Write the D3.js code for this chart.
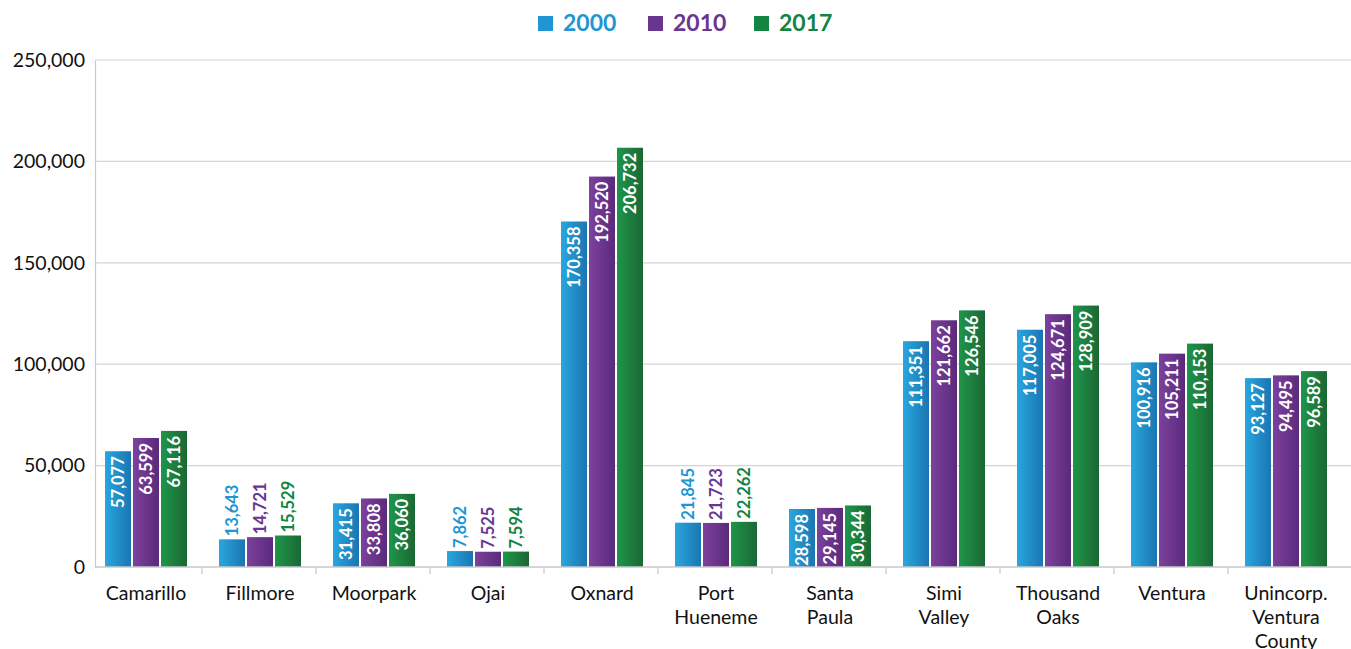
<!DOCTYPE html>
<html>
<head>
<meta charset="UTF-8">
<script src="https://d3js.org/d3.v7.min.js"></script>
<style>
  body { margin: 0; background: #fff; }
  text { font-family: Lato, "Open Sans", sans-serif; }
</style>
</head>
<body>
<script>
  // data
  var cities = ["Camarillo", "Fillmore", "Moorpark", "Ojai", "Oxnard", "Port Hueneme",
                "Santa Paula", "Simi Valley", "Thousand Oaks", "Ventura", "Unincorp. Ventura County"];
  var cityLines = [["Camarillo"], ["Fillmore"], ["Moorpark"], ["Ojai"], ["Oxnard"], ["Port", "Hueneme"],
                   ["Santa", "Paula"], ["Simi", "Valley"], ["Thousand", "Oaks"], ["Ventura"], ["Unincorp.", "Ventura", "County"]];
  var years = ["2000", "2010", "2017"];
  var pop2000 = [57077, 13643, 31415, 7862, 170358, 21845, 28598, 111351, 117005, 100916, 93127];
  var pop2010 = [63599, 14721, 33808, 7525, 192520, 21723, 29145, 121662, 124671, 105211, 94495];
  var pop2017 = [67116, 15529, 36060, 7594, 206732, 22262, 30344, 126546, 128909, 110153, 96589];
  var yTicks = [0, 50000, 100000, 150000, 200000, 250000];

  var series = [pop2000, pop2010, pop2017];
  var legendColors = ["#1f96d3", "#6a3591", "#138442"];
  var gradStops = [["#2aa6de", "#1a76b2"], ["#7d419c", "#5a2a7c"], ["#1f9549", "#1a6834"]];

  var width = 1351, height = 649;
  var axisX = 95;

  var svg = d3.select('body').append('svg').attr('width', width).attr('height', height);

  var defs = svg.append('defs');
  gradStops.forEach(function(s, i) {
    var g = defs.append('linearGradient').attr('id', 'g' + i)
      .attr('x1', '0%').attr('x2', '100%').attr('y1', '0%').attr('y2', '0%');
    g.append('stop').attr('offset', '0%').attr('stop-color', s[0]);
    g.append('stop').attr('offset', '100%').attr('stop-color', s[1]);
  });

  var x = d3.scaleBand().domain(cities).range([88, 1342]);
  var x1 = d3.scaleBand().domain(years).range([17, 99]).paddingInner(0.0714);
  var y = d3.scaleLinear().domain([0, 250000]).range([567, 60]);

  // gridlines
  svg.append('g').selectAll('line').data(yTicks.slice(1)).join('line')
    .attr('x1', axisX).attr('x2', width)
    .attr('y1', function(d) { return y(d) }).attr('y2', function(d) { return y(d) })
    .attr('stroke', '#d4d4d4').attr('stroke-width', 1.2);

  // y axis
  var yAxis = svg.append('g').attr('transform', 'translate(' + axisX + ',0)')
    .call(d3.axisLeft(y).tickValues(yTicks).tickSize(0).tickPadding(10).tickFormat(d3.format(',')));
  yAxis.select('.domain').attr('stroke', '#c8c8c8').attr('stroke-width', 1.2);
  yAxis.selectAll('text').attr('font-size', 19.5).attr('fill', '#111').attr('font-family', 'Lato');

  // bars
  var groups = svg.append('g').selectAll('g').data(cities).join('g')
    .attr('transform', function(d) { return 'translate(' + x(d) + ',0)' });

  years.forEach(function(yr, si) {
    groups.append('rect')
      .attr('x', x1(yr))
      .attr('width', x1.bandwidth())
      .attr('y', function(d, i) { return y(series[si][i]) })
      .attr('height', function(d, i) { return y(0) - y(series[si][i]) })
      .attr('fill', 'url(#g' + si + ')');

    groups.append('text')
      .attr('transform', function(d, i) {
        var v = series[si][i];
        var inside = (y(0) - y(v)) > 52;
        var ty = inside ? y(v) + 5 : y(v) - 3;
        return 'translate(' + (x1(yr) + x1.bandwidth() / 2 + 6) + ',' + ty + ') rotate(-90)';
      })
      .attr('text-anchor', function(d, i) { return (y(0) - y(series[si][i])) > 52 ? 'end' : 'start' })
      .attr('font-size', 16.5).attr('font-weight', 'bold')
      .attr('fill', function(d, i) { return (y(0) - y(series[si][i])) > 52 ? '#fff' : legendColors[si] })
      .text(function(d, i) { return d3.format(',')(series[si][i]) });
  });

  // x axis
  var xAxis = svg.append('g').attr('transform', 'translate(0,' + y(0) + ')');
  xAxis.append('line').attr('x1', axisX).attr('x2', width)
    .attr('stroke', '#c8c8c8').attr('stroke-width', 1.5);
  xAxis.selectAll('line.tk').data(cities.slice(1)).join('line').attr('class', 'tk')
    .attr('x1', function(d) { return x(d) }).attr('x2', function(d) { return x(d) })
    .attr('y1', 0).attr('y2', 7).attr('stroke', '#c8c8c8').attr('stroke-width', 1.2);
  xAxis.selectAll('text').data(cities).join('text')
    .attr('y', 33)
    .attr('text-anchor', 'middle').attr('font-size', 19.5).attr('fill', '#111')
    .each(function(d, i) {
      var t = d3.select(this);
      cityLines[i].forEach(function(l, j) {
        t.append('tspan').attr('x', x(d) + x.bandwidth() / 2 + 1).attr('dy', j ? 24 : 0).text(l);
      });
    });

  // legend
  var legX = [538, 648, 754];
  var leg = svg.append('g').selectAll('g').data(years).join('g')
    .attr('transform', function(d, i) { return 'translate(' + legX[i] + ',16)' });
  leg.append('rect').attr('width', 15).attr('height', 15)
    .attr('fill', function(d, i) { return legendColors[i] });
  leg.append('text').attr('x', 25).attr('y', 14.5)
    .attr('font-size', 23).attr('font-weight', 'bold')
    .attr('fill', function(d, i) { return legendColors[i] })
    .text(function(d) { return d });
</script>
</body>
</html>
